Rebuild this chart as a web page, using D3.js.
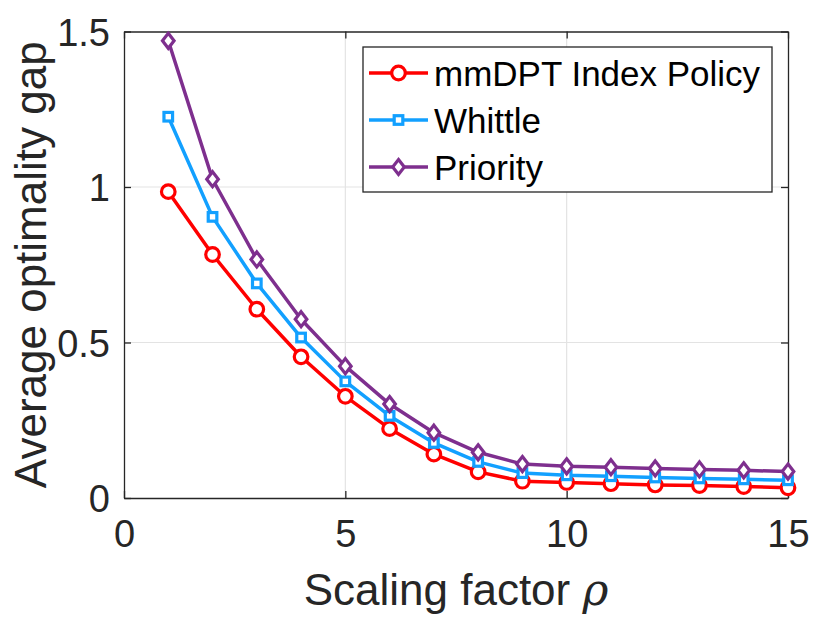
<!DOCTYPE html>
<html>
<head>
  <script src="https://d3js.org/d3.v7.min.js"></script>
  <style>
    body { margin: 0; background: #fff; }
    text { font-family: "Liberation Sans", Arial, sans-serif; }
  </style>
</head>
<body>
<div id="chart"></div>
<script>
// data
var rho = [1, 2, 3, 4, 5, 6, 7, 8, 9, 10, 11, 12, 13, 14, 15];
var mmdpt = [0.985, 0.783, 0.607, 0.454, 0.327, 0.223, 0.141, 0.084, 0.054, 0.050, 0.046, 0.042, 0.040, 0.037, 0.033];
var whittle = [1.226, 0.904, 0.690, 0.516, 0.375, 0.264, 0.177, 0.116, 0.080, 0.073, 0.070, 0.066, 0.063, 0.060, 0.057];
var priority = [1.470, 1.025, 0.767, 0.575, 0.424, 0.302, 0.210, 0.147, 0.109, 0.102, 0.099, 0.095, 0.092, 0.089, 0.085];
var xTicks = [0, 5, 10, 15];
var yTicks = [0, 0.5, 1, 1.5];
var seriesNames = ['mmDPT Index Policy', 'Whittle', 'Priority'];

var W = 830, H = 623;
var margin = { top: 31.5, right: 42, bottom: 125, left: 124 };
var width = W - margin.left - margin.right;
var height = H - margin.top - margin.bottom;

var svg = d3.select('#chart').append('svg')
  .attr('width', W)
  .attr('height', H);

var g = svg.append('g')
  .attr('transform', 'translate(' + margin.left + ',' + margin.top + ')');

var x = d3.scaleLinear().domain([0, 15]).range([0, width]);
var y = d3.scaleLinear().domain([0, 1.5]).range([height, 0]);

var axisColor = '#262626';

// grid
g.append('g').selectAll('line.gx')
  .data(xTicks.slice(1, -1))
  .enter().append('line')
  .attr('x1', function(d) { return x(d); })
  .attr('x2', function(d) { return x(d); })
  .attr('y1', 0).attr('y2', height)
  .attr('stroke', '#e3e3e3').attr('stroke-width', 1.2);
g.append('g').selectAll('line.gy')
  .data(yTicks.slice(1, -1))
  .enter().append('line')
  .attr('y1', function(d) { return y(d); })
  .attr('y2', function(d) { return y(d); })
  .attr('x1', 0).attr('x2', width)
  .attr('stroke', '#e3e3e3').attr('stroke-width', 1.2);

// axes, ticks inward
var xAxis = g.append('g')
  .attr('transform', 'translate(0,' + height + ')')
  .call(d3.axisBottom(x).tickValues(xTicks).tickSizeInner(-7).tickSizeOuter(0).tickPadding(22));
var yAxis = g.append('g')
  .call(d3.axisLeft(y).tickValues(yTicks).tickFormat(d3.format('')).tickSizeInner(-7).tickSizeOuter(0).tickPadding(14));
g.append('g')
  .call(d3.axisTop(x).tickValues(xTicks).tickFormat('').tickSizeInner(-7).tickSizeOuter(0));
g.append('g')
  .attr('transform', 'translate(' + width + ',0)')
  .call(d3.axisRight(y).tickValues(yTicks).tickFormat('').tickSizeInner(-7).tickSizeOuter(0));

g.selectAll('.domain').attr('stroke', axisColor).attr('stroke-width', 1.3);
g.selectAll('.tick line').attr('stroke', axisColor).attr('stroke-width', 1.3);
g.selectAll('.tick text')
  .attr('fill', axisColor)
  .style('font-family', '"Liberation Sans", Arial, sans-serif')
  .style('font-size', '38px');
xAxis.selectAll('.tick text').attr('dy', '0.71em');
yAxis.selectAll('.tick text').attr('dy', '0.36em');

// axis labels
svg.append('text')
  .attr('x', margin.left + width / 2)
  .attr('y', 605)
  .attr('text-anchor', 'middle')
  .attr('fill', axisColor)
  .style('font-size', '44px')
  .text('Scaling factor ')
  .append('tspan')
  .style('font-family', '"DejaVu Serif", "Liberation Serif", serif')
  .style('font-style', 'italic')
  .text('\u03C1');

svg.append('text')
  .attr('transform', 'translate(46,' + (margin.top + height / 2) + ') rotate(-90)')
  .attr('text-anchor', 'middle')
  .attr('fill', axisColor)
  .style('font-size', '44px')
  .text('Average optimality gap');

// series
var series = [
  { name: seriesNames[0], values: mmdpt, color: '#ff0000', marker: 'circle' },
  { name: seriesNames[1], values: whittle, color: '#12a0ff', marker: 'square' },
  { name: seriesNames[2], values: priority, color: '#7e2f8e', marker: 'diamond' }
];

function drawMarker(sel, type, color) {
  if (type === 'circle') {
    sel.append('circle').attr('r', 6.8);
  } else if (type === 'square') {
    sel.append('rect').attr('x', -4.3).attr('y', -4.3).attr('width', 8.6).attr('height', 8.6);
  } else {
    sel.append('path').attr('d', 'M0,-7.5L5.8,0L0,7.5L-5.8,0Z');
  }
  sel.selectAll('*')
    .attr('fill', '#fff')
    .attr('stroke', color)
    .attr('stroke-width', 3.2);
}

var line = d3.line()
  .x(function(d, i) { return x(rho[i]); })
  .y(function(d) { return y(d); });

series.forEach(function(s) {
  g.append('path')
    .datum(s.values)
    .attr('d', line)
    .attr('fill', 'none')
    .attr('stroke', s.color)
    .attr('stroke-width', 3.5)
    .attr('stroke-linejoin', 'round');
  g.selectAll(null)
    .data(s.values)
    .enter().append('g')
    .attr('transform', function(d, i) { return 'translate(' + x(rho[i]) + ',' + y(d) + ')'; })
    .each(function() { drawMarker(d3.select(this), s.marker, s.color); });
});

// legend
var legend = svg.append('g').attr('transform', 'translate(363,47)');
legend.append('rect')
  .attr('width', 409).attr('height', 145)
  .attr('fill', '#fff')
  .attr('stroke', axisColor).attr('stroke-width', 1.3);

series.forEach(function(s, i) {
  var row = legend.append('g').attr('transform', 'translate(0,' + (26 + i * 47) + ')');
  row.append('line')
    .attr('x1', 6).attr('x2', 65)
    .attr('stroke', s.color).attr('stroke-width', 3.5);
  var m = row.append('g').attr('transform', 'translate(35.5,0)');
  drawMarker(m, s.marker, s.color);
  row.append('text')
    .attr('x', 71).attr('y', 13)
    .attr('fill', '#000')
    .style('font-size', '35px')
    .text(s.name);
});
</script>
</body>
</html>
